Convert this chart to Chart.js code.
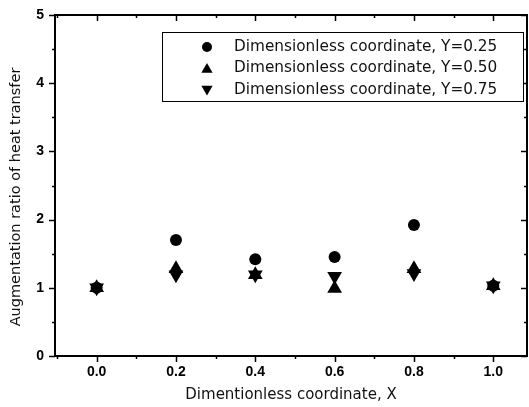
<!DOCTYPE html>
<html>
<head>
<meta charset="utf-8">
<script src="https://cdn.jsdelivr.net/npm/chart.js@4.4.1/dist/chart.umd.min.js"></script>
<style>
  html, body { margin: 0; padding: 0; background: #fff; overflow: hidden; }
  #wrap { width: 529px; height: 407px; }
</style>
</head>
<body>
<div id="wrap"><canvas id="chart" width="529" height="407"></canvas></div>
<script>
/* ===== Data ===== */
const xValues = [0.0, 0.2, 0.4, 0.6, 0.8, 1.0];
const seriesLabels = [
  'Dimensionless coordinate, Y=0.25',
  'Dimensionless coordinate, Y=0.50',
  'Dimensionless coordinate, Y=0.75'
];
const ratioY25 = [1.00, 1.70, 1.42, 1.45, 1.92, 1.03];
const ratioY50 = [1.00, 1.28, 1.19, 0.99, 1.28, 1.03];
const ratioY75 = [1.00, 1.19, 1.19, 1.17, 1.21, 1.03];

const xTicks = [0.0, 0.2, 0.4, 0.6, 0.8, 1.0];
const xMinorTicks = [-0.1, 0.1, 0.3, 0.5, 0.7, 0.9];
const yTicks = [0, 1, 2, 3, 4, 5];
const yMinorTicks = [0.5, 1.5, 2.5, 3.5, 4.5];

const xTitle = 'Dimentionless coordinate, X';
const yTitle = 'Augmentation ratio of heat transfer';

/* ===== helpers ===== */
const toPoints = ys => xValues.map((x, i) => ({ x, y: ys[i] }));
const TITLE_FONT = { family: 'DejaVu Sans', size: 15, weight: 'normal' };
const TICK_FONT = { family: 'Liberation Sans', size: 14, weight: 'bold' };

// same triangle geometry as Chart.js (radius r, apex up or down)
function drawMarker(ctx, style, r, x, y, down) {
  ctx.beginPath();
  if (style === 'circle') {
    ctx.arc(x, y, r, 0, Math.PI * 2);
  } else {
    let rad = down ? Math.PI : 0;
    for (let k = 0; k < 3; k++) {
      const px = x + Math.sin(rad) * r, py = y - Math.cos(rad) * r;
      k ? ctx.lineTo(px, py) : ctx.moveTo(px, py);
      rad += Math.PI * 2 / 3;
    }
    ctx.closePath();
  }
  ctx.fill();
}

/* ===== frame + ticks on all four sides, y title ===== */
const frameTicks = {
  id: 'frameTicks',
  afterDraw(chart) {
    const { ctx, chartArea: a, scales: { x, y } } = chart;
    ctx.save();
    ctx.strokeStyle = '#000';
    ctx.lineWidth = 2;
    ctx.strokeRect(a.left, a.top, a.right - a.left, a.bottom - a.top);
    ctx.lineWidth = 1.5;
    const tick = (list, len) => {
      list.forEach(v => {
        const px = Math.round(x.getPixelForValue(v)) + 0.5;
        if (px < a.left || px > a.right) return;
        ctx.beginPath();
        ctx.moveTo(px, a.bottom); ctx.lineTo(px, a.bottom + len);
        ctx.moveTo(px, a.top); ctx.lineTo(px, a.top + len);
        ctx.stroke();
      });
    };
    const ytick = (list, len) => {
      list.forEach(v => {
        const py = Math.round(y.getPixelForValue(v)) + 0.5;
        ctx.beginPath();
        ctx.moveTo(a.left, py); ctx.lineTo(a.left - len, py);
        ctx.moveTo(a.right, py); ctx.lineTo(a.right - len, py);
        ctx.stroke();
      });
    };
    tick(xTicks, 6); tick(xMinorTicks, 3);
    ytick(yTicks, 6); ytick(yMinorTicks, 3);

    // y axis title (sits a bit below the plot centre in the original)
    ctx.translate(16, 197);
    ctx.rotate(-Math.PI / 2);
    ctx.fillStyle = '#111';
    ctx.font = '14.5px "DejaVu Sans"';
    ctx.textAlign = 'center';
    ctx.textBaseline = 'middle';
    ctx.fillText(yTitle, 0, 0);
    ctx.restore();
  }
};

/* ===== legend box inside the plot ===== */
const boxLegend = {
  id: 'boxLegend',
  afterDraw(chart) {
    const ctx = chart.ctx;
    ctx.save();
    ctx.fillStyle = '#fff';
    ctx.fillRect(162, 32, 361, 69);
    ctx.strokeStyle = '#000';
    ctx.lineWidth = 1;
    ctx.strokeRect(162.5, 32.5, 361, 69);
    chart.data.datasets.forEach((ds, i) => {
      const yy = 47 + i * 21.5;
      ctx.fillStyle = '#000';
      if (ds.pointStyle === 'circle') drawMarker(ctx, 'circle', 5, 207, yy);
      else drawMarker(ctx, 'triangle', 6.5, 207, yy + (ds.rotation ? -1 : 1), !!ds.rotation);
      ctx.fillStyle = '#111';
      ctx.font = '15.3px "DejaVu Sans"';
      ctx.textBaseline = 'middle';
      ctx.fillText(ds.label, 234, yy);
    });
    ctx.restore();
  }
};

new Chart(document.getElementById('chart'), {
  type: 'scatter',
  data: {
    datasets: [
      { label: seriesLabels[0], data: toPoints(ratioY25), pointStyle: 'circle',
        pointRadius: 6, backgroundColor: '#000', borderColor: '#000', borderWidth: 0 },
      { label: seriesLabels[1], data: toPoints(ratioY50), pointStyle: 'triangle',
        pointRadius: 8.5, backgroundColor: '#000', borderColor: '#000', borderWidth: 0 },
      { label: seriesLabels[2], data: toPoints(ratioY75), pointStyle: 'triangle', rotation: 180,
        pointRadius: 8.5, backgroundColor: '#000', borderColor: '#000', borderWidth: 0 }
    ]
  },
  options: {
    responsive: false,
    animation: false,
    layout: { autoPadding: false, padding: { top: 15, right: 2, left: 0, bottom: 0 } },
    plugins: { legend: { display: false }, tooltip: { enabled: false } },
    scales: {
      x: {
        type: 'linear', min: -0.105, max: 1.085,
        afterBuildTicks: s => { s.ticks = xTicks.map(v => ({ value: v })); },
        afterFit: s => { s.height = 51; s.paddingLeft = 0; s.paddingRight = 0; },
        grid: { display: false, drawTicks: false },
        border: { display: false },
        ticks: { color: '#000', font: TICK_FONT, padding: 8, maxRotation: 0,
                 callback: v => Number(v).toFixed(1) },
        title: { display: true, text: xTitle, color: '#111', font: TITLE_FONT,
                 padding: { top: 0, bottom: 3 } }
      },
      y: {
        type: 'linear', min: 0, max: 5,
        afterBuildTicks: s => { s.ticks = yTicks.map(v => ({ value: v })); },
        afterFit: s => { s.width = 55; s.paddingTop = 0; s.paddingBottom = 0; },
        grid: { display: false, drawTicks: false },
        border: { display: false },
        ticks: { color: '#000', font: TICK_FONT, padding: 11, callback: v => String(v) },
        title: { display: false }
      }
    }
  },
  plugins: [frameTicks, boxLegend]
});
</script>
</body>
</html>
